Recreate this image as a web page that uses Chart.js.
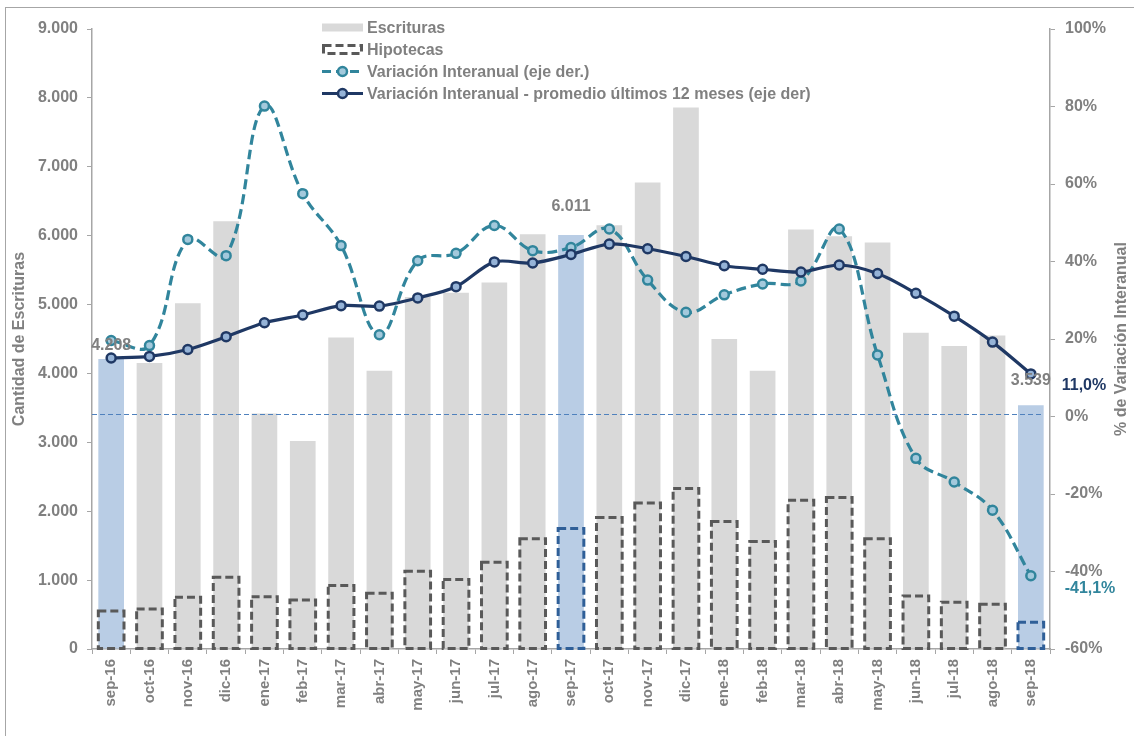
<!DOCTYPE html>
<html><head><meta charset="utf-8">
<script src="https://cdn.jsdelivr.net/npm/chart.js@4.4.0/dist/chart.umd.min.js"></script>
<style>html,body{margin:0;padding:0;background:#fff}#wrap{position:relative;width:1134px;height:736px}</style>
</head><body><div id="wrap"><canvas id="c" width="1134" height="736"></canvas></div>
<script>
const categories = ['sep-16','oct-16','nov-16','dic-16','ene-17','feb-17','mar-17','abr-17','may-17','jun-17','jul-17','ago-17','sep-17','oct-17','nov-17','dic-17','ene-18','feb-18','mar-18','abr-18','may-18','jun-18','jul-18','ago-18','sep-18'];
const escrituras = [4208,4150,5020,6210,3420,3020,4520,4040,5110,5170,5320,6020,6011,6150,6770,7860,4500,4040,6090,5990,5900,4590,4400,4550,3539];
const hipotecas = [550,580,750,1040,760,710,920,810,1130,1010,1260,1600,1750,1910,2120,2330,1850,1560,2160,2200,1600,770,680,650,390];
const variacionInteranual = [19.6,18.3,45.7,41.5,80.1,57.5,44.1,21.1,40.2,42.1,49.3,42.8,43.6,48.4,35.2,26.9,31.4,34.2,35.0,48.4,15.9,-10.8,-16.9,-24.2,-41.1];
const promedio12m = [15.1,15.5,17.3,20.6,24.2,26.2,28.6,28.5,30.6,33.5,39.9,39.6,41.8,44.5,43.3,41.3,38.9,38.0,37.3,39.1,36.9,31.8,25.9,19.2,11.0];
const leftTicks = [0,1000,2000,3000,4000,5000,6000,7000,8000,9000];
const rightTicks = [-60,-40,-20,0,20,40,60,80,100];
const highlightBars = ['sep-16','sep-17','sep-18'];
const highlightHip = ['sep-17','sep-18'];
const seriesNames = ['Escrituras','Hipotecas','Variación Interanual (eje der.)','Variación Interanual - promedio últimos 12 meses (eje der)'];

const FONT = "'Liberation Sans', Arial, sans-serif";
const TXT = '#808080';
const AXIS = '#a6a6a6';
const GREYBAR = '#d9d9d9';
const LIGHTBLUE = '#b9cde5';
const HIPGREY = '#595959';
const HIPBLUE = '#2f5f98';
const TEAL = '#31859c';
const NAVY = '#1f3864';
const TEALFILL = '#a3c9dc';
const NAVYFILL = '#95b3d7';
const ZEROLINE = '#4f81bd';

Chart.defaults.font.family = FONT;

const fmtThousands = v => String(Math.round(v)).replace(/\B(?=(\d{3})+(?!\d))/g, '.');
const fmtPct = v => v.toFixed(1).replace('.', ',') + '%';

const barColors = categories.map(c => highlightBars.includes(c) ? LIGHTBLUE : GREYBAR);
const hipColors = categories.map(c => highlightHip.includes(c) ? HIPBLUE : HIPGREY);

const labelOffsets = {0: 14, 12: 28, 24: 25};

const extras = {
  id: 'extras',
  beforeDraw(chart) {
    const ctx = chart.ctx;
    ctx.save();
    ctx.fillStyle = '#fff';
    ctx.fillRect(0, 0, chart.width, chart.height);
    ctx.strokeStyle = AXIS; ctx.lineWidth = 1;
    ctx.strokeRect(5.5, 7.5, chart.width + 40, chart.height + 40);
    ctx.restore();
  },
  afterDatasetDraw(chart, args) {
    if (args.index !== 1) return;
    const ctx = chart.ctx;
    const ca = chart.chartArea;
    ctx.save();
    // 0% reference line
    const yz = Math.round(chart.scales.y1.getPixelForValue(0)) - 2.5;
    ctx.strokeStyle = ZEROLINE; ctx.lineWidth = 1.2; ctx.setLineDash([5, 3]);
    ctx.beginPath(); ctx.moveTo(ca.left, yz); ctx.lineTo(ca.right - 6, yz); ctx.stroke();
    // dashed hipotecas boxes
    ctx.lineWidth = 3; ctx.setLineDash([8, 4]); ctx.lineCap = 'butt';
    args.meta.data.forEach((el, i) => {
      const p = el.getProps(['x', 'y', 'base', 'width'], true);
      ctx.strokeStyle = hipColors[i];
      ctx.strokeRect(p.x - p.width / 2, p.y, p.width, p.base - p.y);
    });
    ctx.restore();
  },
  afterDraw(chart) {
    const ctx = chart.ctx;
    const ca = chart.chartArea;
    ctx.save();
    ctx.font = 'bold 16px ' + FONT;
    ctx.textBaseline = 'middle';
    // bar value labels
    ctx.textAlign = 'center'; ctx.fillStyle = TXT;
    const m0 = chart.getDatasetMeta(0);
    categories.forEach((c, i) => {
      if (!highlightBars.includes(c)) return;
      const el = m0.data[i];
      ctx.fillText(fmtThousands(escrituras[i]), el.x, el.y - labelOffsets[i]);
    });
    // last-point labels
    const last = categories.length - 1;
    const pN = chart.getDatasetMeta(3).data[last];
    const pT = chart.getDatasetMeta(2).data[last];
    ctx.fillStyle = NAVY;
    ctx.fillText(fmtPct(promedio12m[last]), ca.right + 34, pN.y + 12);
    ctx.fillStyle = TEAL;
    ctx.fillText(fmtPct(variacionInteranual[last]), ca.right + 40, pT.y + 13);
    // right axis title
    ctx.save();
    ctx.fillStyle = TXT;
    ctx.translate(1122, (ca.top + ca.bottom) / 2);
    ctx.rotate(-Math.PI / 2);
    ctx.textAlign = 'center';
    ctx.fillText('% de Variación Interanual', 0, 0);
    ctx.restore();
    // legend
    const lx = 322, lw = 41, tx = 367;
    const rows = [27.5, 49.5, 71.5, 93.5];
    ctx.textAlign = 'left'; ctx.fillStyle = TXT;
    seriesNames.forEach((n, i) => ctx.fillText(n, tx, rows[i] + 1));
    ctx.fillStyle = GREYBAR; ctx.fillRect(lx, rows[0] - 4, lw, 8);
    ctx.strokeStyle = HIPGREY; ctx.lineWidth = 3; ctx.setLineDash([8, 4]);
    ctx.strokeRect(lx + 1.5, rows[1] - 4, lw - 3, 8);
    ctx.strokeStyle = TEAL; ctx.setLineDash([9, 5]);
    ctx.beginPath(); ctx.moveTo(lx, rows[2]); ctx.lineTo(lx + lw, rows[2]); ctx.stroke();
    ctx.setLineDash([]);
    ctx.beginPath(); ctx.arc(lx + lw / 2, rows[2], 4.5, 0, Math.PI * 2);
    ctx.fillStyle = TEALFILL; ctx.fill(); ctx.lineWidth = 2.5; ctx.stroke();
    ctx.strokeStyle = NAVY; ctx.lineWidth = 3;
    ctx.beginPath(); ctx.moveTo(lx, rows[3]); ctx.lineTo(lx + lw, rows[3]); ctx.stroke();
    ctx.beginPath(); ctx.arc(lx + lw / 2, rows[3], 4.5, 0, Math.PI * 2);
    ctx.fillStyle = NAVYFILL; ctx.fill(); ctx.lineWidth = 2.5; ctx.stroke();
    ctx.restore();
  }
};

new Chart(document.getElementById('c'), {
  type: 'bar',
  data: {
    labels: categories,
    datasets: [
      { label: seriesNames[0], data: escrituras, yAxisID: 'y', order: 3, grouped: false,
        backgroundColor: barColors, borderWidth: 0, barPercentage: 0.67, categoryPercentage: 1 },
      { label: seriesNames[1], data: hipotecas, yAxisID: 'y', order: 2, grouped: false,
        backgroundColor: 'rgba(0,0,0,0)', borderWidth: 0, barPercentage: 0.67, categoryPercentage: 1 },
      { type: 'line', label: seriesNames[2], data: variacionInteranual, yAxisID: 'y1', order: 1,
        borderColor: TEAL, borderWidth: 3.2, borderDash: [10, 5], tension: 0.4, fill: false,
        pointRadius: 4.5, pointBorderWidth: 2.5, pointBorderColor: TEAL, pointBackgroundColor: TEALFILL },
      { type: 'line', label: seriesNames[3], data: promedio12m, yAxisID: 'y1', order: 0,
        borderColor: NAVY, borderWidth: 3.2, tension: 0.3, fill: false,
        pointRadius: 4.5, pointBorderWidth: 2.5, pointBorderColor: NAVY, pointBackgroundColor: NAVYFILL }
    ]
  },
  options: {
    responsive: false,
    animation: false,
    layout: { padding: { top: 29, left: 0, right: 0, bottom: 0 } },
    plugins: { legend: { display: false }, tooltip: { enabled: false } },
    scales: {
      x: {
        offset: true,
        grid: { display: true, drawOnChartArea: false, drawTicks: true, tickLength: 5, color: AXIS, offset: true },
        border: { display: true, color: AXIS, width: 1.5 },
        ticks: { minRotation: 90, maxRotation: 90, autoSkip: false, padding: 5, color: TXT, font: { size: 15, weight: 'bold' } },
        afterFit(s) { s.height = 87; }
      },
      y: {
        position: 'left', min: 0, max: 9000,
        afterBuildTicks(s) { s.ticks = leftTicks.map(v => ({ value: v })); },
        grid: { display: true, drawOnChartArea: false, drawTicks: true, tickLength: 5, color: AXIS },
        border: { display: true, color: AXIS, width: 1.5 },
        ticks: { padding: 9, color: TXT, font: { size: 16, weight: 'bold' }, callback: v => fmtThousands(v) },
        title: { display: true, text: 'Cantidad de Escrituras', color: TXT, font: { size: 16, weight: 'bold' }, padding: { top: 10, bottom: 0 } },
        afterFit(s) { s.width = 92; }
      },
      y1: {
        position: 'right', min: -60, max: 100,
        afterBuildTicks(s) { s.ticks = rightTicks.map(v => ({ value: v })); },
        grid: { display: true, drawOnChartArea: false, drawTicks: true, tickLength: 5, color: AXIS },
        border: { display: true, color: AXIS, width: 1.5 },
        ticks: { padding: 10, color: TXT, font: { size: 16, weight: 'bold' }, callback: v => v + '%' },
        afterFit(s) { s.width = 84; }
      }
    }
  },
  plugins: [extras]
});
</script>
</body></html>
